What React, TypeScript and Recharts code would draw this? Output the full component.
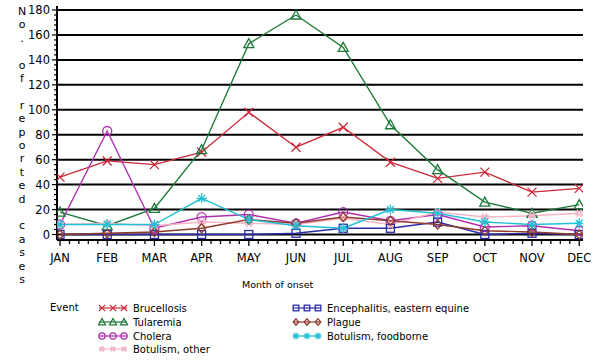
import React from 'react';
import { LineChart, Line, XAxis, YAxis, CartesianGrid } from 'recharts';

const months = ['JAN', 'FEB', 'MAR', 'APR', 'MAY', 'JUN', 'JUL', 'AUG', 'SEP', 'OCT', 'NOV', 'DEC'];
const brucellosis = [46, 59, 56, 66, 98, 70, 86, 58, 45, 50, 34, 37];
const tularemia = [18, 7, 21, 68, 153, 176, 150, 88, 52, 26, 17, 24];
const cholera = [8, 83, 5, 14, 16, 9, 18, 11, 16, 6, 7, 3];
const botulismOther = [8, 9, 7, 10, 9, 8, 13, 8, 18, 14, 15, 17];
const encephalitis = [0, 0, 0, 0, 0, 1, 5, 5, 10, 0, 1, 0];
const plague = [0, 1, 2, 5, 12, 9, 14, 11, 8, 3, 2, 0];
const botulismFoodborne = [8, 8, 8, 29, 12, 7, 5, 20, 17, 10, 8, 9];
const yMajorTicks = [0, 20, 40, 60, 80, 100, 120, 140, 160, 180];
const yAxisLabel = 'No. of reported cases';
const xAxisTitle = 'Month of onset';
const legendTitle = 'Event';

type Kind = 'cross' | 'triangle' | 'circle' | 'hash' | 'square' | 'diamond' | 'star';

const series: { key: string; name: string; values: number[]; color: string; kind: Kind }[] = [
  { key: 'brucellosis', name: 'Brucellosis', values: brucellosis, color: '#cc2a3a', kind: 'cross' },
  { key: 'tularemia', name: 'Tularemia', values: tularemia, color: '#1f7a3a', kind: 'triangle' },
  { key: 'cholera', name: 'Cholera', values: cholera, color: '#b030b0', kind: 'circle' },
  { key: 'botulismOther', name: 'Botulism, other', values: botulismOther, color: '#f4b6c6', kind: 'hash' },
  { key: 'encephalitis', name: 'Encephalitis, eastern equine', values: encephalitis, color: '#2c2caa', kind: 'square' },
  { key: 'plague', name: 'Plague', values: plague, color: '#8e3a2c', kind: 'diamond' },
  { key: 'botulismFoodborne', name: 'Botulism, foodborne', values: botulismFoodborne, color: '#22c0d4', kind: 'star' },
];

const data = months.map((m, i) => {
  const row: Record<string, number | string> = { idx: i, month: m };
  series.forEach((s) => {
    row[s.key] = s.values[i];
  });
  return row;
});

const xTicks: number[] = [];
for (let i = 0; i <= 55; i++) xTicks.push(i / 5);
const yTicks: number[] = [];
for (let v = 0; v <= 180; v += 4) yTicks.push(v);

function Marker({ kind, color, x, y, s = 1 }: { kind: Kind; color: string; x: number; y: number; s?: number }) {
  const sw = 1.3;
  let shape: React.ReactNode = null;
  switch (kind) {
    case 'cross':
      shape = (
        <g>
          <line x1={-4.5} y1={-4.5} x2={4.5} y2={4.5} />
          <line x1={-4.5} y1={4.5} x2={4.5} y2={-4.5} />
        </g>
      );
      break;
    case 'triangle':
      shape = <polygon points="0,-5 5,4 -5,4" />;
      break;
    case 'circle':
      shape = <circle r={4.5} />;
      break;
    case 'hash':
      shape = (
        <g>
          <line x1={-1.8} y1={-4} x2={-1.8} y2={4} />
          <line x1={1.8} y1={-4} x2={1.8} y2={4} />
          <line x1={-4} y1={-1.5} x2={4} y2={-1.5} />
          <line x1={-4} y1={1.5} x2={4} y2={1.5} />
        </g>
      );
      break;
    case 'square':
      shape = <rect x={-4} y={-4} width={8} height={8} />;
      break;
    case 'diamond':
      shape = <polygon points="0,-4.5 4,0 0,4.5 -4,0" />;
      break;
    case 'star':
      shape = (
        <g>
          <line x1={-5} y1={0} x2={5} y2={0} />
          <line x1={0} y1={-5} x2={0} y2={5} />
          <line x1={-3.5} y1={-3.5} x2={3.5} y2={3.5} />
          <line x1={-3.5} y1={3.5} x2={3.5} y2={-3.5} />
        </g>
      );
      break;
  }
  return (
    <g transform={`translate(${x},${y}) scale(${s})`} fill="none" stroke={color} strokeWidth={sw / s}>
      {shape}
    </g>
  );
}

function makeDot(kind: Kind, color: string) {
  return (props: any) => {
    const { cx, cy, index } = props;
    if (cx == null || cy == null) return <g key={`e-${kind}-${index}`} />;
    return (
      <g key={`d-${kind}-${index}`}>
        <Marker kind={kind} color={color} x={cx} y={cy} />
      </g>
    );
  };
}

function XTick(props: any) {
  const { x, y, payload } = props;
  const v = payload.value as number;
  const major = Math.abs(v - Math.round(v)) < 1e-6;
  return (
    <g>
      <line x1={x} y1={y} x2={x} y2={y + (major ? 6 : 4)} stroke="#000" strokeWidth={1.3} />
      {major && (
        <text x={x} y={y + 22} textAnchor="middle" fontSize={11.5} fontFamily="DejaVu Sans" fill="#000">
          {months[Math.round(v)]}
        </text>
      )}
    </g>
  );
}

function YTick(props: any) {
  const { x, y, payload } = props;
  const v = payload.value as number;
  const major = v % 20 === 0;
  return (
    <g>
      <line x1={x} y1={y} x2={x - (major ? 5 : 3)} y2={y} stroke="#000" strokeWidth={1.2} />
      {major && (
        <text x={x - 7} y={y + 4} textAnchor="end" fontSize={11.5} fontFamily="DejaVu Sans" fill="#000">
          {v}
        </text>
      )}
    </g>
  );
}

function LegendIcon({ kind, color }: { kind: Kind; color: string }) {
  return (
    <svg width={30} height={12} style={{ display: 'block' }}>
      <line x1={1} y1={6} x2={29} y2={6} stroke={color} strokeWidth={1.2} />
      <Marker kind={kind} color={color} x={4} y={6} s={0.7} />
      <Marker kind={kind} color={color} x={15} y={6} s={0.7} />
      <Marker kind={kind} color={color} x={26} y={6} s={0.7} />
    </svg>
  );
}

export default function App() {
  const col1 = series.filter((s) => ['brucellosis', 'tularemia', 'cholera', 'botulismOther'].includes(s.key));
  const col2 = series.filter((s) => ['encephalitis', 'plague', 'botulismFoodborne'].includes(s.key));
  const rowY = [308, 322, 336, 349];
  return (
    <div
      style={{
        position: 'absolute',
        left: 0,
        top: 0,
        width: 600,
        height: 361,
        background: '#fff',
        fontFamily: 'DejaVu Sans',
        color: '#000',
        overflow: 'hidden',
      }}
    >
      <LineChart width={600} height={361} data={data} margin={{ top: 6, right: 17, left: 7, bottom: 91 }}>
        <CartesianGrid horizontal vertical={false} horizontalValues={yMajorTicks} stroke="#000" strokeWidth={2} />
        <XAxis
          dataKey="idx"
          type="number"
          domain={[-0.064, 11.08]}
          allowDataOverflow
          ticks={xTicks}
          interval={0}
          tick={<XTick />}
          tickLine={false}
          tickSize={0}
          tickMargin={0}
          axisLine={{ stroke: '#000', strokeWidth: 2 }}
          height={30}
        />
        <YAxis
          type="number"
          domain={[-4.4, 183.2]}
          allowDataOverflow
          ticks={yTicks}
          interval={0}
          tick={<YTick />}
          tickLine={false}
          tickSize={0}
          tickMargin={0}
          axisLine={{ stroke: '#000', strokeWidth: 2 }}
          width={50}
        />
        {series.map((s) => (
          <Line
            key={s.key}
            dataKey={s.key}
            name={s.name}
            type="linear"
            stroke={s.color}
            strokeWidth={1.4}
            dot={makeDot(s.kind, s.color)}
            activeDot={false}
            isAnimationActive={false}
          />
        ))}
      </LineChart>

      <div style={{ position: 'absolute', left: 15, top: 0, width: 14, fontSize: 11 }}>
        {yAxisLabel.split('').map((ch, i) => (
          <div
            key={i}
            style={{ position: 'absolute', left: 0, top: 12 + i * 13.4 - 7, width: 14, textAlign: 'center', lineHeight: '14px' }}
          >
            {ch === ' ' ? '\u00a0' : ch}
          </div>
        ))}
      </div>

      <div style={{ position: 'absolute', left: 242, top: 278, fontSize: 9.5, lineHeight: '14px', whiteSpace: 'nowrap' }}>
        {xAxisTitle}
      </div>

      <div style={{ position: 'absolute', left: 50, top: rowY[0] - 7, fontSize: 10, lineHeight: '14px' }}>{legendTitle}</div>
      {col1.map((s, i) => (
        <div key={s.key} style={{ position: 'absolute', left: 98, top: rowY[i] - 7, display: 'flex', alignItems: 'center', height: 14 }}>
          <LegendIcon kind={s.kind} color={s.color} />
          <span style={{ marginLeft: 5, fontSize: 10, whiteSpace: 'nowrap' }}>{s.name}</span>
        </div>
      ))}
      {col2.map((s, i) => (
        <div key={s.key} style={{ position: 'absolute', left: 292, top: rowY[i] - 7, display: 'flex', alignItems: 'center', height: 14 }}>
          <LegendIcon kind={s.kind} color={s.color} />
          <span style={{ marginLeft: 5, fontSize: 10, whiteSpace: 'nowrap' }}>{s.name}</span>
        </div>
      ))}
    </div>
  );
}
